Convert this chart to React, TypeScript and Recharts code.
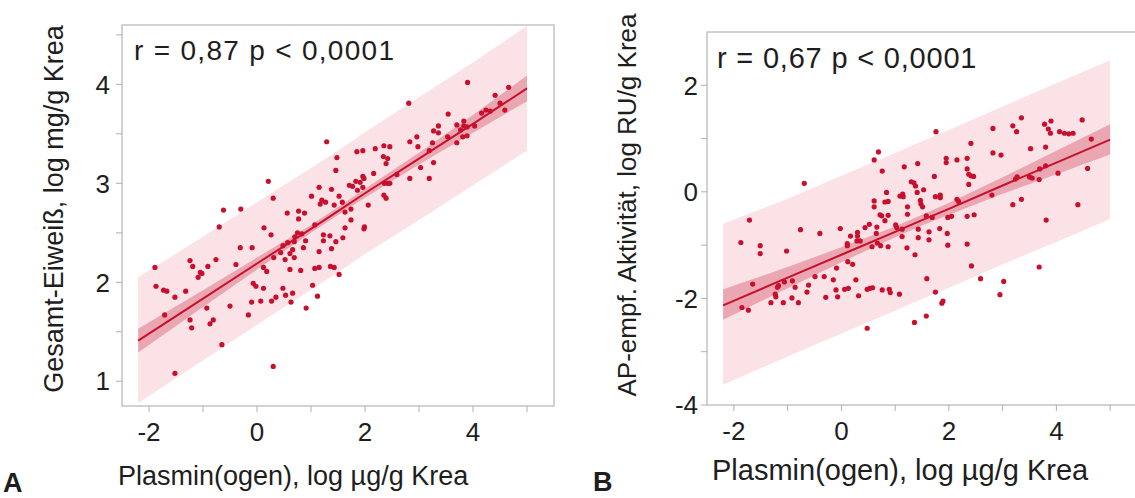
import React from 'react'
import { ComposedChart, Area, Line, Scatter, XAxis, YAxis, ReferenceArea } from 'recharts'

const FONT = '"Liberation Sans", Arial, Helvetica, sans-serif'
const RED = '#c8102e'
const BAND_LIGHT = '#fbe2e6'
const BAND_DARK = '#eaa7b1'
const FRAME = '#c4c4c4'

const bandX = [-2.2, -1, 0, 1, 1.5, 2, 3, 4, 5]

// Panel A: Gesamt-Eiweiß vs Plasmin(ogen)
const fitA = [1.41, 1.835, 2.19, 2.54, 2.72, 2.9, 3.25, 3.6, 3.96]
const ciLowA = [1.29, 1.75, 2.13, 2.5, 2.68, 2.855, 3.19, 3.51, 3.83]
const ciHighA = [1.53, 1.92, 2.25, 2.58, 2.76, 2.945, 3.31, 3.69, 4.09]
const piLowA = [0.78, 1.21, 1.57, 1.925, 2.1, 2.285, 2.63, 2.98, 3.33]
const piHighA = [2.05, 2.46, 2.81, 3.155, 3.33, 3.515, 3.87, 4.22, 4.59]

const pointsA: [number, number][] = [
  [1.29, 3.42], [1.48, 3.26], [1.46, 3.13], [0.21, 3.02], [0.3, 2.85], [-0.62, 2.73], [-0.3, 2.74], [-0.7, 2.56],
  [1.15, 2.96], [1.38, 2.94], [1.01, 2.87], [1.2, 2.83], [1.27, 2.81], [1.17, 2.79], [1.43, 2.78], [1.52, 2.87],
  [0.56, 2.7], [0.77, 2.72], [0.88, 2.7], [0.77, 2.64], [0.13, 2.55], [0.26, 2.48], [0.75, 2.5], [0.7, 2.46],
  [0.83, 2.49], [1.07, 2.58], [1.23, 2.48], [1.35, 2.47], [1.23, 2.42], [1.46, 2.41], [0.9, 2.42], [0.69, 2.41],
  [0.57, 2.4], [0.48, 2.37], [0.86, 2.35], [0.66, 2.33], [0.44, 2.3], [0.61, 2.29], [1.15, 2.31], [1.38, 2.34],
  [-0.09, 2.35], [-0.31, 2.35], [0.31, 2.25], [0.52, 2.23], [0.69, 2.25], [-0.76, 2.23], [-0.39, 2.18], [-1.24, 2.22],
  [-1.19, 2.16], [-0.91, 2.16], [-1.89, 2.15], [-1.05, 2.1], [-1.02, 2.09], [-1.09, 2.05], [0.12, 2.15], [0.18, 2.11],
  [0.61, 2.13], [0.81, 2.12], [1.07, 2.14], [1.15, 2.15], [1.36, 2.16], [1.43, 2.15], [1.52, 2.08], [-1.87, 1.96],
  [-1.73, 1.92], [-1.67, 1.91], [-1.52, 1.85], [-1.32, 1.91], [-0.07, 1.99], [-0.02, 1.96], [0.12, 1.94], [0.48, 1.94],
  [1.03, 1.97], [0.53, 1.87], [0.66, 1.89], [0.35, 1.85], [0.27, 1.81], [0.07, 1.81], [-0.1, 1.8], [0.63, 1.8],
  [1.12, 1.86], [0.91, 1.74], [-0.5, 1.76], [-0.93, 1.74], [-1.71, 1.67], [-0.16, 1.67], [-1.24, 1.62], [-0.81, 1.62],
  [-0.87, 1.58], [-1.21, 1.54], [-0.65, 1.37], [0.3, 1.15], [-1.52, 1.08],
  [3.9, 4.02], [4.66, 3.97], [4.41, 3.89], [4.5, 3.81], [4.59, 3.74], [4.16, 3.71], [4.24, 3.74], [4.32, 3.73],
  [2.81, 3.81], [3.54, 3.7], [3.7, 3.59], [3.83, 3.63], [3.83, 3.58], [3.89, 3.57], [4.03, 3.58], [3.77, 3.54],
  [3.89, 3.48], [3.81, 3.47], [3.7, 3.41], [3.53, 3.47], [3.36, 3.58], [3.27, 3.53], [3.36, 3.51], [3.25, 3.41],
  [2.96, 3.47], [2.83, 3.42], [2.98, 3.37], [3.19, 3.33], [3.27, 3.21], [3.03, 3.16], [2.83, 3.05], [3.19, 3.05],
  [2.59, 3.09], [2.35, 3.38], [2.46, 3.37], [2.34, 3.27], [2.42, 3.25], [2.39, 3.2], [2.19, 3.35], [1.96, 3.33],
  [1.85, 3.32], [2.16, 3.1], [2.36, 3.0], [2.42, 3.0], [2.46, 3.0], [2.35, 2.88], [2.39, 2.85], [1.96, 3.07],
  [1.83, 3.02], [1.91, 3.01], [1.98, 3.05], [1.71, 2.98], [1.77, 2.97], [1.86, 2.93], [1.96, 2.96], [2.06, 2.78],
  [1.74, 2.74], [1.63, 2.71], [1.58, 2.81], [1.74, 2.63], [1.63, 2.55], [1.99, 2.56], [1.98, 2.54], [1.59, 2.45],
]

// Panel B: AP-empf. Aktivität vs Plasmin(ogen)
const fitB = [-2.13, -1.61, -1.18, -0.75, -0.53, -0.32, 0.12, 0.55, 0.98]
const ciLowB = [-2.4, -1.81, -1.32, -0.85, -0.63, -0.43, -0.035, 0.33, 0.7]
const ciHighB = [-1.83, -1.41, -1.04, -0.65, -0.43, -0.21, 0.275, 0.77, 1.27]
const piLowB = [-3.62, -3.09, -2.66, -2.23, -2.01, -1.8, -1.36, -0.94, -0.51]
const piHighB = [-0.6, -0.13, 0.3, 0.73, 0.95, 1.16, 1.6, 2.04, 2.47]

const pointsB: [number, number][] = [
  [0.69, 0.75], [0.61, 0.6], [0.76, 0.39], [1.17, 0.47], [1.42, 0.53], [-0.69, 0.16], [-1.71, -0.53], [-1.87, -0.95],
  [-1.51, -1.01], [-1.51, -1.16], [-1.02, -1.11], [-0.76, -0.71], [-0.4, -0.78], [-0.02, -0.69], [0.17, -0.83], [0.3, -0.76],
  [0.3, -0.83], [0.11, -0.97], [0.11, -1.01], [0.29, -0.92], [0.35, -0.92], [0.44, -0.67], [0.52, -0.61], [0.66, -0.66],
  [0.65, -0.78], [0.61, -0.28], [0.61, -0.17], [0.72, -0.43], [0.75, -0.45], [0.81, -0.54], [0.84, -0.01], [0.81, -0.19],
  [0.87, -0.18], [0.87, -0.44], [0.67, -0.96], [0.73, -1.01], [0.57, -1.03], [0.87, -1.03], [1.01, -0.62], [1.03, -0.67],
  [1.09, -0.08], [1.14, -0.04], [1.15, -0.09], [1.23, -0.28], [1.23, -0.42], [1.13, -0.7], [1.13, -0.84], [1.22, -1.05],
  [1.37, -1.18], [1.3, 0.19], [1.35, 0.17], [1.38, 0.11], [1.41, -0.01], [1.43, -0.7], [1.43, -0.86], [-1.65, -1.73],
  [-1.85, -2.17], [-1.73, -2.22], [-1.31, -2.08], [-1.23, -1.92], [-1.22, -1.97], [-1.19, -1.79], [-1.17, -1.76], [-1.06, -1.69],
  [-1.08, -2.08], [-0.92, -1.99], [-0.91, -1.67], [-0.86, -1.79], [-0.8, -2.08], [-0.64, -1.88], [-0.61, -1.75], [-0.49, -1.59],
  [-0.32, -1.59], [-0.29, -1.98], [-0.15, -1.65], [-0.09, -1.43], [-0.1, -1.84], [-0.07, -1.97], [0.06, -1.83], [0.13, -1.81],
  [0.21, -1.36], [0.12, -1.31], [0.27, -1.65], [0.32, -1.95], [0.48, -1.83], [0.53, -1.81], [0.58, -1.8], [0.76, -1.84],
  [0.89, -1.83], [0.91, -1.89], [1.08, -1.92], [0.48, -2.56], [1.36, -2.45],
  [1.76, 1.13], [2.82, 1.19], [3.19, 1.24], [3.26, 1.13], [3.35, 1.39], [3.78, 1.27], [3.9, 1.33], [3.85, 1.18],
  [3.89, 1.1], [4.06, 1.13], [4.15, 1.1], [4.23, 1.09], [4.31, 1.1], [4.48, 1.35], [4.65, 0.99], [2.41, 0.91],
  [2.82, 0.73], [2.97, 0.69], [3.52, 0.81], [3.8, 0.84], [1.95, 0.63], [1.95, 0.55], [2.15, 0.6], [2.34, 0.63],
  [2.34, 0.43], [2.37, 0.33], [2.41, 0.3], [2.46, 0.29], [2.37, 0.14], [1.73, 0.29], [1.53, 0.04], [1.75, -0.09],
  [1.84, -0.06], [1.84, -0.11], [1.47, -0.16], [1.48, -0.23], [1.51, -0.28], [2.15, -0.14], [2.18, -0.18], [2.8, -0.06],
  [3.19, -0.24], [3.35, -0.14], [3.24, 0.24], [3.27, 0.28], [3.5, 0.28], [3.55, 0.26], [3.68, 0.23], [3.69, 0.43],
  [3.8, 0.49], [4.03, 0.35], [4.58, 0.44], [4.4, -0.24], [3.81, -0.53], [1.58, -0.45], [1.69, -0.48], [1.98, -0.48],
  [2.05, -0.46], [2.34, -0.46], [2.47, -0.43], [1.63, -0.75], [1.83, -0.69], [1.97, -0.78], [1.63, -0.9], [1.98, -1.0],
  [2.34, -0.98], [2.42, -1.39], [3.68, -1.41], [1.59, -1.63], [2.59, -1.63], [3.02, -1.68], [1.75, -1.88], [2.95, -1.93],
  [1.89, -2.05], [1.87, -2.09], [1.58, -2.33],
]

const xTicks = [-2, -1, 0, 1, 2, 3, 4, 5]
const yTicksA = [1, 1.5, 2, 2.5, 3, 3.5, 4, 4.5]
const yTicksB = [-4, -3, -2, -1, 0, 1, 2]

const buildBands = (fit: number[], ciLo: number[], ciHi: number[], piLo: number[], piHi: number[]) =>
  bandX.map((x, i) => ({ x, fit: fit[i], ci: [ciLo[i], ciHi[i]], pi: [piLo[i], piHi[i]] }))

const tickStyle = { fontSize: 26, fill: '#1e1e1e', fontFamily: FONT }

const Dot = (p: any) => <circle cx={p.cx} cy={p.cy} r={2.6} fill={RED} />

interface PanelProps {
  width: number
  margin: { top: number; right: number; bottom: number; left: number }
  bands: ReturnType<typeof buildBands>
  points: [number, number][]
  yDomain: [number, number]
  yTicks: number[]
  yLabelEvery: number
  yTickMargin: number
}

function Panel({ width, margin, bands, points, yDomain, yTicks, yLabelEvery, yTickMargin }: PanelProps) {
  const pts = points.map(([x, y]) => ({ x, y }))
  return (
    <ComposedChart width={width} height={498} data={bands} margin={margin}>
      <XAxis
        dataKey="x"
        type="number"
        domain={[-2.5, 5.5]}
        allowDataOverflow
        ticks={xTicks}
        interval={0}
        tickFormatter={(v: number) => (v % 2 === 0 ? String(v) : '')}
        tick={tickStyle}
        tickLine={{ stroke: '#b0b0b0' }}
        axisLine={false}
        tickSize={6}
        tickMargin={11}
        height={40}
      />
      <YAxis
        type="number"
        domain={yDomain}
        allowDataOverflow
        ticks={yTicks}
        interval={0}
        tickFormatter={(v: number) => (Math.abs(v % yLabelEvery) < 1e-9 ? String(v) : '')}
        tick={tickStyle}
        tickLine={{ stroke: '#b0b0b0' }}
        axisLine={false}
        tickSize={6}
        tickMargin={yTickMargin}
        width={60}
      />
      <Area dataKey="pi" type="linear" fill={BAND_LIGHT} fillOpacity={1} stroke="none" isAnimationActive={false} />
      <Area dataKey="ci" type="linear" fill={BAND_DARK} fillOpacity={1} stroke="none" isAnimationActive={false} />
      <Line dataKey="fit" type="linear" stroke={RED} strokeWidth={2} dot={false} isAnimationActive={false} />
      <Scatter data={pts} dataKey="y" shape={Dot} isAnimationActive={false} />
      <ReferenceArea
        x1={-2.5}
        x2={5.5}
        y1={yDomain[0]}
        y2={yDomain[1]}
        fill="none"
        stroke={FRAME}
        strokeWidth={1.5}
        ifOverflow="visible"
      />
    </ComposedChart>
  )
}

export default function App() {
  const bandsA = buildBands(fitA, ciLowA, ciHighA, piLowA, piHighA)
  const bandsB = buildBands(fitB, ciLowB, ciHighB, piLowB, piHighB)
  return (
    <div style={{ position: 'absolute', left: 0, top: 0, width: 1135, height: 498, overflow: 'hidden', background: '#fff' }}>
      <div style={{ position: 'absolute', left: 0, top: 0 }}>
        <Panel
          width={570}
          margin={{ top: 25, right: 16, bottom: 52, left: 62 }}
          bands={bandsA}
          points={pointsA}
          yDomain={[0.75, 4.6]}
          yTicks={yTicksA}
          yLabelEvery={1}
          yTickMargin={6}
        />
      </div>
      <div style={{ position: 'absolute', left: 580, top: 0 }}>
        <Panel
          width={560}
          margin={{ top: 32, right: 3, bottom: 53, left: 67 }}
          bands={bandsB}
          points={pointsB}
          yDomain={[-4, 3]}
          yTicks={yTicksB}
          yLabelEvery={2}
          yTickMargin={3}
        />
      </div>
      <svg width={1135} height={498} style={{ position: 'absolute', left: 0, top: 0, pointerEvents: 'none' }} fontFamily={FONT} fill="#1e1e1e">
        <text x={134} y={60} fontSize={28} letterSpacing={1.3}>r = 0,87 p &lt; 0,0001</text>
        <text x={717} y={67.5} fontSize={29} letterSpacing={0.8}>r = 0,67 p &lt; 0,0001</text>
        <text x={118} y={485} fontSize={27}>Plasmin(ogen), log µg/g Krea</text>
        <text x={712} y={480} fontSize={29}>Plasmin(ogen), log µg/g Krea</text>
        <text transform="translate(62.5,209) rotate(-90)" textAnchor="middle" fontSize={27}>Gesamt-Eiweiß, log mg/g Krea</text>
        <text transform="translate(636,205) rotate(-90)" textAnchor="middle" fontSize={26}>AP-empf. Aktivität, log RU/g Krea</text>
        <text x={3} y={492} fontSize={27} fontWeight="bold">A</text>
        <text x={593} y={491} fontSize={27} fontWeight="bold">B</text>
      </svg>
    </div>
  )
}
